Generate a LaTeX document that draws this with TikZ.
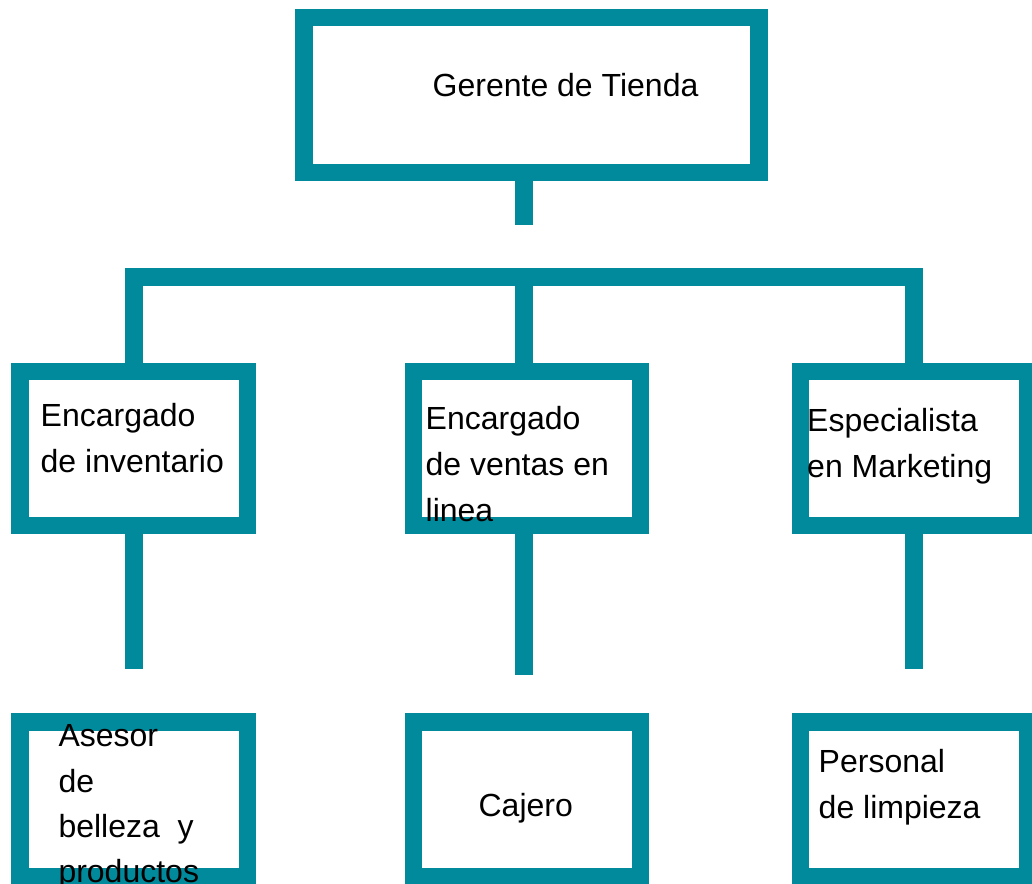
\documentclass[tikz,border=0pt]{standalone}
\usepackage{fontspec}
\setmainfont{Liberation Sans}
\usetikzlibrary{positioning}
\definecolor{petrol}{RGB}{0,138,155}

\begin{document}
\begin{tikzpicture}[x=1pt,y=-1pt,
    puesto/.style={rectangle,draw=petrol,line width=17.5pt,inner sep=0pt,outer sep=0pt,minimum width=227pt,minimum height=154pt},
    enlace/.style={draw=petrol,line width=17.5pt},
    rotulo/.style={anchor=north west,inner sep=0pt,align=left,font=\fontsize{32}{46}\selectfont}]
    \useasboundingbox (0,0) rectangle (1032,883);
    \clip (0,0) rectangle (1032,883);

    % Cajas
    \node[puesto,minimum width=455pt,minimum height=155pt] (g) at (531.5,95) {};
    \node[puesto,minimum width=227.5pt] (inv) at (133.75,448.5) {};
    \node[puesto] (ven) at (527,448.5) {};
    \node[puesto] (mkt) at (914,448.5) {};
    \node[puesto,minimum width=227.5pt,minimum height=155pt,below=196.5pt of inv] (ase) {};
    \node[puesto,minimum height=155pt,below=196.5pt of ven] (caj) {};
    \node[puesto,minimum height=155pt,below=196.5pt of mkt] (lim) {};

    % Lineas
    \coordinate (hub) at (524,277);
    \coordinate (gfin) at (524,225);
    \coordinate (invfin) at (133.75,669);
    \coordinate (venfin) at (524,675);
    \coordinate (mktfin) at (914,669);
    \draw[enlace] (hub |- g.south) -- (gfin);
    \draw[enlace] (inv.north) |- (hub) -| (mkt.north);
    \draw[enlace] (hub) -- (hub |- ven.north);
    \draw[enlace] (inv.south) -- (invfin);
    \draw[enlace] (hub |- ven.south) -- (venfin);
    \draw[enlace] (mkt.south) -- (mktfin);

    % Textos
    \node[rotulo] (tg) at (432.5,66) {\rule{0pt}{30pt}Gerente de Tienda};
    \node[rotulo] (tinv) at (40.5,396.7) {\rule{0pt}{30pt}Encargado\\de inventario};
    \node[rotulo] (tven) at (425.5,399) {\rule{0pt}{30pt}Encargado\\de ventas en\\linea};
    \node[rotulo] (tmkt) at (807,401) {\rule{0pt}{30pt}Especialista\\en Marketing};
    \node[rotulo,font=\fontsize{32}{45.1}\selectfont] (tase) at (58.3,716.7) {\rule{0pt}{30pt}Asesor\\de\\belleza\ \ y\\productos};
    \node[rotulo] (tcaj) at (478.4,786) {\rule{0pt}{30pt}Cajero};
    \node[rotulo] (tlim) at (818.5,742.3) {\rule{0pt}{30pt}Personal\\de limpieza};
\end{tikzpicture}
\end{document}
